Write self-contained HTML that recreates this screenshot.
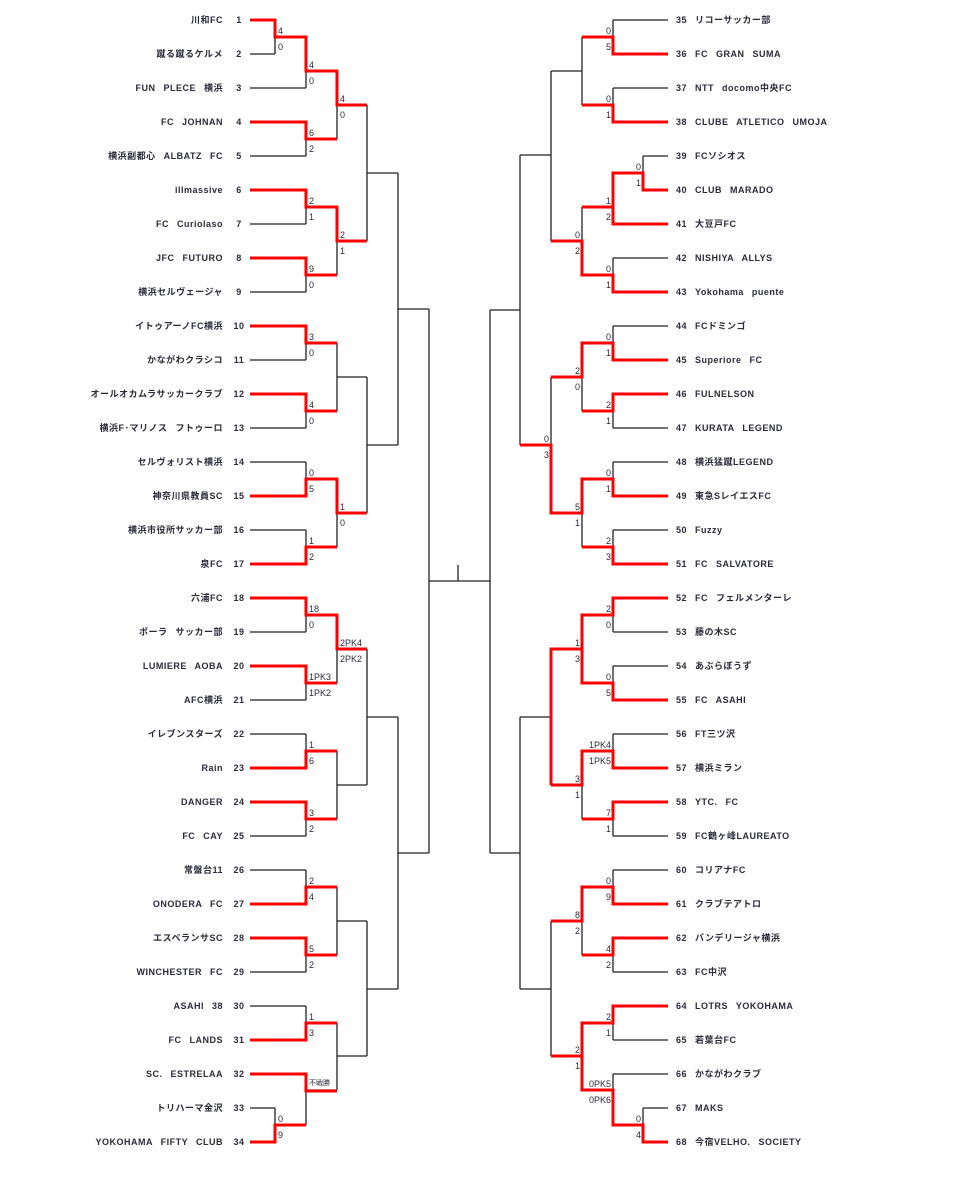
<!DOCTYPE html>
<html><head><meta charset="utf-8"><style>
html,body{margin:0;padding:0;background:#fff;}
svg{display:block;}
text{font-family:"Liberation Sans","Noto Sans CJK JP",sans-serif;fill:#2a2a3a;}
.n{font-size:9px;font-weight:bold;word-spacing:5px;letter-spacing:0.5px;}
.s{font-size:9px;}
.b{stroke:#222;stroke-width:1.3;fill:none;}
.r{stroke:#f00;stroke-width:3;fill:none;}
</style></head><body>
<svg width="960" height="1200" viewBox="0 0 960 1200" xmlns="http://www.w3.org/2000/svg">
<g class="b">
<path d="M250 20H275M250 54H275M250 1108H275M250 1142H275"/>
<path d="M250 88H306M250 122H306M250 156H306M250 190H306M250 224H306M250 258H306M250 292H306M250 326H306M250 360H306M250 394H306M250 428H306M250 462H306M250 496H306M250 530H306M250 564H306M250 598H306M250 632H306M250 666H306M250 700H306M250 734H306M250 768H306M250 802H306M250 836H306M250 870H306M250 904H306M250 938H306M250 972H306M250 1006H306M250 1040H306M250 1074H306"/>
<path d="M275 20V54M275 1108V1142M275 37H306M275 1125H306"/>
<path d="M306 37V88M306 122V156M306 190V224M306 258V292M306 326V360M306 394V428M306 462V496M306 530V564M306 598V632M306 666V700M306 734V768M306 802V836M306 870V904M306 938V972M306 1006V1040M306 1074V1125"/>
<path d="M306 71H337M306 139H337M306 207H337M306 275H337M306 343H337M306 411H337M306 479H337M306 547H337M306 615H337M306 683H337M306 751H337M306 819H337M306 887H337M306 955H337M306 1023H337M306 1090H337"/>
<path d="M337 71V139M337 207V275M337 343V411M337 479V547M337 615V683M337 751V819M337 887V955M337 1023V1090"/>
<path d="M337 105H367M337 241H367M337 377H367M337 513H367M337 649H367M337 785H367M337 921H367M337 1056H367"/>
<path d="M367 105V241M367 377V513M367 649V785M367 921V1056M367 173H398M367 445H398M367 717H398M367 989H398"/>
<path d="M398 173V445M398 717V989M398 309H429M398 853H429M429 309V853M429 581H490M458 565V581"/>
<path d="M668 156H643M668 190H643M668 1108H643M668 1142H643M643 156V190M643 1108V1142M643 173H613M643 1125H613"/>
<path d="M668 20H613M668 54H613M668 88H613M668 122H613M668 224H613M668 258H613M668 292H613M668 326H613M668 360H613M668 394H613M668 428H613M668 462H613M668 496H613M668 530H613M668 564H613M668 598H613M668 632H613M668 666H613M668 700H613M668 734H613M668 768H613M668 802H613M668 836H613M668 870H613M668 904H613M668 938H613M668 972H613M668 1006H613M668 1040H613M668 1074H613"/>
<path d="M613 20V54M613 88V122M613 173V224M613 258V292M613 326V360M613 394V428M613 462V496M613 530V564M613 598V632M613 666V700M613 734V768M613 802V836M613 870V904M613 938V972M613 1006V1040M613 1074V1125"/>
<path d="M613 37H582M613 105H582M613 207H582M613 275H582M613 343H582M613 411H582M613 479H582M613 547H582M613 615H582M613 683H582M613 751H582M613 819H582M613 887H582M613 955H582M613 1023H582M613 1090H582"/>
<path d="M582 37V105M582 207V275M582 343V411M582 479V547M582 615V683M582 751V819M582 887V955M582 1023V1090"/>
<path d="M582 71H551M582 241H551M582 377H551M582 513H551M582 649H551M582 785H551M582 921H551M582 1056H551"/>
<path d="M551 71V241M551 377V513M551 649V785M551 921V1056M551 155H520M551 445H520M551 717H520M551 989H520"/>
<path d="M520 155V445M520 717V989M520 310H490M520 853H490M490 310V853"/>
</g>
<g class="r">
<path d="M250 20H275V37H306V71H337V105H367"/>
<path d="M250 122H306V139H337"/>
<path d="M250 190H306V207H337V241H367"/>
<path d="M250 258H306V275H337"/>
<path d="M250 326H306V343H337"/>
<path d="M250 394H306V411H337"/>
<path d="M250 496H306V479H337V513H367"/>
<path d="M250 564H306V547H337"/>
<path d="M250 598H306V615H337V649H367"/>
<path d="M250 666H306V683H337"/>
<path d="M250 768H306V751H337"/>
<path d="M250 802H306V819H337"/>
<path d="M250 904H306V887H337"/>
<path d="M250 938H306V955H337"/>
<path d="M250 1040H306V1023H337"/>
<path d="M250 1074H306V1091H337"/>
<path d="M250 1142H275V1125H306"/>
<path d="M668 54H613V37H582"/>
<path d="M668 122H613V105H582"/>
<path d="M668 190H643V173H613V207H582"/>
<path d="M668 224H613V207"/>
<path d="M668 292H613V275H582V241H551"/>
<path d="M668 360H613V343H582V377H551"/>
<path d="M668 394H613V411H582"/>
<path d="M668 496H613V479H582V513H551V445H520"/>
<path d="M668 564H613V547H582"/>
<path d="M668 598H613V615H582V649"/>
<path d="M668 700H613V683H582V649H551V785"/>
<path d="M668 768H613V751H582V785H551"/>
<path d="M668 802H613V819H582"/>
<path d="M668 904H613V887H582V921H551"/>
<path d="M668 938H613V955H582"/>
<path d="M668 1006H613V1023H582V1056H551"/>
<path d="M668 1142H643V1125H613V1090H582V1056"/>
</g>
<g class="n" text-anchor="end">
<text x="223" y="23">川和FC</text>
<text x="223" y="57">蹴る蹴るケルメ</text>
<text x="223" y="91">FUN PLECE 横浜</text>
<text x="223" y="125">FC JOHNAN</text>
<text x="223" y="159">横浜副都心 ALBATZ FC</text>
<text x="223" y="193">illmassive</text>
<text x="223" y="227">FC Curiolaso</text>
<text x="223" y="261">JFC FUTURO</text>
<text x="223" y="295">横浜セルヴェージャ</text>
<text x="223" y="329">イトゥアーノFC横浜</text>
<text x="223" y="363">かながわクラシコ</text>
<text x="223" y="397">オールオカムラサッカークラブ</text>
<text x="223" y="431">横浜F･マリノス フトゥーロ</text>
<text x="223" y="465">セルヴォリスト横浜</text>
<text x="223" y="499">神奈川県教員SC</text>
<text x="223" y="533">横浜市役所サッカー部</text>
<text x="223" y="567">泉FC</text>
<text x="223" y="601">六浦FC</text>
<text x="223" y="635">ポーラ サッカー部</text>
<text x="223" y="669">LUMIERE AOBA</text>
<text x="223" y="703">AFC横浜</text>
<text x="223" y="737">イレブンスターズ</text>
<text x="223" y="771">Rain</text>
<text x="223" y="805">DANGER</text>
<text x="223" y="839">FC CAY</text>
<text x="223" y="873">常盤台11</text>
<text x="223" y="907">ONODERA FC</text>
<text x="223" y="941">エスペランサSC</text>
<text x="223" y="975">WINCHESTER FC</text>
<text x="223" y="1009">ASAHI 38</text>
<text x="223" y="1043">FC LANDS</text>
<text x="223" y="1077">SC. ESTRELAA</text>
<text x="223" y="1111">トリハーマ金沢</text>
<text x="223" y="1145">YOKOHAMA FIFTY CLUB</text>
</g>
<g class="n" text-anchor="middle">
<text x="239" y="23">1</text><text x="239" y="57">2</text><text x="239" y="91">3</text><text x="239" y="125">4</text><text x="239" y="159">5</text><text x="239" y="193">6</text><text x="239" y="227">7</text><text x="239" y="261">8</text><text x="239" y="295">9</text><text x="239" y="329">10</text><text x="239" y="363">11</text><text x="239" y="397">12</text><text x="239" y="431">13</text><text x="239" y="465">14</text><text x="239" y="499">15</text><text x="239" y="533">16</text><text x="239" y="567">17</text><text x="239" y="601">18</text><text x="239" y="635">19</text><text x="239" y="669">20</text><text x="239" y="703">21</text><text x="239" y="737">22</text><text x="239" y="771">23</text><text x="239" y="805">24</text><text x="239" y="839">25</text><text x="239" y="873">26</text><text x="239" y="907">27</text><text x="239" y="941">28</text><text x="239" y="975">29</text><text x="239" y="1009">30</text><text x="239" y="1043">31</text><text x="239" y="1077">32</text><text x="239" y="1111">33</text><text x="239" y="1145">34</text>
</g>
<g class="n">
<text x="676" y="23">35</text><text x="695" y="23">リコーサッカー部</text>
<text x="676" y="57">36</text><text x="695" y="57">FC GRAN SUMA</text>
<text x="676" y="91">37</text><text x="695" y="91">NTT docomo中央FC</text>
<text x="676" y="125">38</text><text x="695" y="125">CLUBE ATLETICO UMOJA</text>
<text x="676" y="159">39</text><text x="695" y="159">FCソシオス</text>
<text x="676" y="193">40</text><text x="695" y="193">CLUB MARADO</text>
<text x="676" y="227">41</text><text x="695" y="227">大豆戸FC</text>
<text x="676" y="261">42</text><text x="695" y="261">NISHIYA ALLYS</text>
<text x="676" y="295">43</text><text x="695" y="295">Yokohama puente</text>
<text x="676" y="329">44</text><text x="695" y="329">FCドミンゴ</text>
<text x="676" y="363">45</text><text x="695" y="363">Superiore FC</text>
<text x="676" y="397">46</text><text x="695" y="397">FULNELSON</text>
<text x="676" y="431">47</text><text x="695" y="431">KURATA LEGEND</text>
<text x="676" y="465">48</text><text x="695" y="465">横浜猛蹴LEGEND</text>
<text x="676" y="499">49</text><text x="695" y="499">東急SレイエスFC</text>
<text x="676" y="533">50</text><text x="695" y="533">Fuzzy</text>
<text x="676" y="567">51</text><text x="695" y="567">FC SALVATORE</text>
<text x="676" y="601">52</text><text x="695" y="601">FC フェルメンターレ</text>
<text x="676" y="635">53</text><text x="695" y="635">藤の木SC</text>
<text x="676" y="669">54</text><text x="695" y="669">あぶらぼうず</text>
<text x="676" y="703">55</text><text x="695" y="703">FC ASAHI</text>
<text x="676" y="737">56</text><text x="695" y="737">FT三ツ沢</text>
<text x="676" y="771">57</text><text x="695" y="771">横浜ミラン</text>
<text x="676" y="805">58</text><text x="695" y="805">YTC. FC</text>
<text x="676" y="839">59</text><text x="695" y="839">FC鶴ヶ峰LAUREATO</text>
<text x="676" y="873">60</text><text x="695" y="873">コリアナFC</text>
<text x="676" y="907">61</text><text x="695" y="907">クラブテアトロ</text>
<text x="676" y="941">62</text><text x="695" y="941">バンデリージャ横浜</text>
<text x="676" y="975">63</text><text x="695" y="975">FC中沢</text>
<text x="676" y="1009">64</text><text x="695" y="1009">LOTRS YOKOHAMA</text>
<text x="676" y="1043">65</text><text x="695" y="1043">若葉台FC</text>
<text x="676" y="1077">66</text><text x="695" y="1077">かながわクラブ</text>
<text x="676" y="1111">67</text><text x="695" y="1111">MAKS</text>
<text x="676" y="1145">68</text><text x="695" y="1145">今宿VELHO. SOCIETY</text>
</g>
<g class="s">
<text x="278" y="34">4</text><text x="278" y="50">0</text>
<text x="309" y="68">4</text><text x="309" y="84">0</text>
<text x="309" y="136">6</text><text x="309" y="152">2</text>
<text x="340" y="102">4</text><text x="340" y="118">0</text>
<text x="309" y="204">2</text><text x="309" y="220">1</text>
<text x="309" y="272">9</text><text x="309" y="288">0</text>
<text x="340" y="238">2</text><text x="340" y="254">1</text>
<text x="309" y="340">3</text><text x="309" y="356">0</text>
<text x="309" y="408">4</text><text x="309" y="424">0</text>
<text x="309" y="476">0</text><text x="309" y="492">5</text>
<text x="309" y="544">1</text><text x="309" y="560">2</text>
<text x="340" y="510">1</text><text x="340" y="526">0</text>
<text x="309" y="612">18</text><text x="309" y="628">0</text>
<text x="309" y="680">1PK3</text><text x="309" y="696">1PK2</text>
<text x="340" y="646">2PK4</text><text x="340" y="662">2PK2</text>
<text x="309" y="748">1</text><text x="309" y="764">6</text>
<text x="309" y="816">3</text><text x="309" y="832">2</text>
<text x="309" y="884">2</text><text x="309" y="900">4</text>
<text x="309" y="952">5</text><text x="309" y="968">2</text>
<text x="309" y="1020">1</text><text x="309" y="1036">3</text>
<text x="309" y="1085" style="font-size:7px">不戦勝</text>
<text x="278" y="1122">0</text><text x="278" y="1138">9</text>
</g>
<g class="s" text-anchor="end">
<text x="611" y="34">0</text><text x="611" y="50">5</text>
<text x="611" y="102">0</text><text x="611" y="118">1</text>
<text x="641" y="170">0</text><text x="641" y="186">1</text>
<text x="611" y="204">1</text><text x="611" y="220">2</text>
<text x="611" y="272">0</text><text x="611" y="288">1</text>
<text x="580" y="238">0</text><text x="580" y="254">2</text>
<text x="611" y="340">0</text><text x="611" y="356">1</text>
<text x="611" y="408">2</text><text x="611" y="424">1</text>
<text x="580" y="374">2</text><text x="580" y="390">0</text>
<text x="611" y="476">0</text><text x="611" y="492">1</text>
<text x="611" y="544">2</text><text x="611" y="560">3</text>
<text x="580" y="510">5</text><text x="580" y="526">1</text>
<text x="549" y="442">0</text><text x="549" y="458">3</text>
<text x="611" y="612">2</text><text x="611" y="628">0</text>
<text x="611" y="680">0</text><text x="611" y="696">5</text>
<text x="580" y="646">1</text><text x="580" y="662">3</text>
<text x="611" y="748">1PK4</text><text x="611" y="764">1PK5</text>
<text x="611" y="816">7</text><text x="611" y="832">1</text>
<text x="580" y="782">3</text><text x="580" y="798">1</text>
<text x="611" y="884">0</text><text x="611" y="900">9</text>
<text x="611" y="952">4</text><text x="611" y="968">2</text>
<text x="580" y="918">8</text><text x="580" y="934">2</text>
<text x="611" y="1020">2</text><text x="611" y="1036">1</text>
<text x="641" y="1122">0</text><text x="641" y="1138">4</text>
<text x="611" y="1087">0PK5</text><text x="611" y="1103">0PK6</text>
<text x="580" y="1053">2</text><text x="580" y="1069">1</text>
</g>
</svg>
</body></html>
